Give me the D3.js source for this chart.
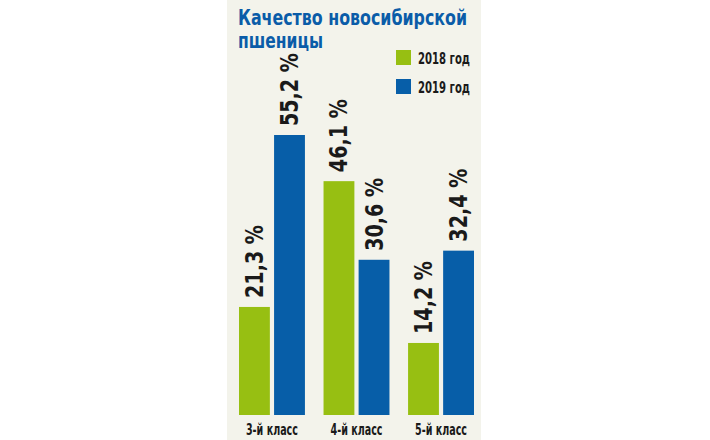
<!DOCTYPE html>
<html><head><meta charset="utf-8">
<script src="https://cdn.jsdelivr.net/npm/d3@7"></script>
<style>
html,body{margin:0;padding:0;background:#ffffff;}
svg{display:block;}
</style></head>
<body>
<svg id="chart" width="710" height="440"></svg>
<script>
const categories = ["3-й класс", "4-й класс", "5-й класс"];
const seriesNames = ["2018 год", "2019 год"];
const values2018 = [21.3, 46.1, 14.2];
const values2019 = [55.2, 30.6, 32.4];
const titleLines = ["Качество новосибирской", "пшеницы"];
const colors = ["#97bf12", "#075ea8"];

const FONT = "'Liberation Sans Narrow','Arial Narrow','DejaVu Sans Condensed',sans-serif";
const svg = d3.select("#chart");

// panel background
svg.append("rect").attr("x", 227).attr("y", 0).attr("width", 254).attr("height", 440).attr("fill", "#f3f3eb");

const baseY = 415;
const y = d3.scaleLinear().domain([0, 55.2]).range([baseY, 135]);
const x0 = d3.scaleBand().domain(categories).range([239, 474]).paddingInner(0.22).paddingOuter(0);
const x1 = d3.scaleBand().domain(seriesNames).range([0, x0.bandwidth()]).paddingInner(0.12);

const data = categories.map((c, i) => ({cat: c, vals: [values2018[i], values2019[i]]}));

const g = svg.append("g");
const groups = g.selectAll("g.grp").data(data).join("g")
  .attr("transform", d => `translate(${x0(d.cat)},0)`);

groups.selectAll("rect").data(d => d.vals.map((v, j) => ({v, s: seriesNames[j], j})))
  .join("rect")
  .attr("x", d => x1(d.s))
  .attr("width", x1.bandwidth())
  .attr("y", d => y(d.v))
  .attr("height", d => baseY - y(d.v))
  .attr("fill", d => colors[d.j]);

// value labels (rotated)
groups.selectAll("text.val").data(d => d.vals.map((v, j) => ({v, s: seriesNames[j], j})))
  .join("text")
  .attr("class", "val")
  .attr("transform", d => `translate(${x1(d.s) + x1.bandwidth() / 2 + 8.5},${y(d.v) - 9}) rotate(-90)`)
  .attr("font-family", FONT)
  .attr("font-weight", "bold")
  .attr("font-size", 25)
  .attr("fill", "#1a1a1a")
  .text(d => d3.format(".1f")(d.v).replace(".", ",") + " %")
  .each(function () {
    const L = this.getComputedTextLength();
    d3.select(this).attr("textLength", L * 0.85).attr("lengthAdjust", "spacingAndGlyphs");
  });

// category labels
g.selectAll("text.cat").data(categories).join("text")
  .attr("class", "cat")
  .attr("x", d => x0(d) + x0.bandwidth() / 2)
  .attr("y", 435)
  .attr("text-anchor", "middle")
  .attr("font-family", FONT)
  .attr("font-weight", "bold")
  .attr("font-size", 15)
  .attr("fill", "#1a1a1a")
  .attr("textLength", 52)
  .attr("lengthAdjust", "spacingAndGlyphs")
  .text(d => d);

// title
const titleLens = [229, 85];
svg.selectAll("text.title").data(titleLines).join("text")
  .attr("class", "title")
  .attr("x", 238)
  .attr("y", (d, i) => 25 + i * 23)
  .attr("font-family", FONT)
  .attr("font-weight", "bold")
  .attr("font-size", 22)
  .attr("fill", "#0a5ca8")
  .attr("textLength", (d, i) => titleLens[i])
  .attr("lengthAdjust", "spacingAndGlyphs")
  .text(d => d);

// legend
const leg = svg.append("g");
seriesNames.forEach((s, i) => {
  leg.append("rect").attr("x", 396).attr("y", 50 + i * 29).attr("width", 15).attr("height", 15).attr("fill", colors[i]);
  leg.append("text").attr("x", 418).attr("y", 64 + i * 29)
    .attr("font-family", FONT).attr("font-weight", "bold").attr("font-size", 15)
    .attr("fill", "#1a1a1a")
    .attr("textLength", 52).attr("lengthAdjust", "spacingAndGlyphs")
    .text(s);
});
</script>
</body></html>
